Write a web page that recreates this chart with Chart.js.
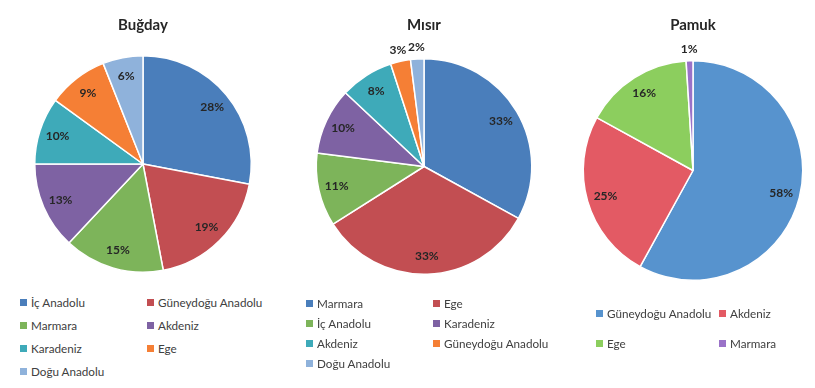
<!DOCTYPE html>
<html>
<head>
<meta charset="utf-8">
<script src="https://cdn.jsdelivr.net/npm/chart.js@4"></script>
<style>
  body { margin: 0; background: #fff; width: 815px; height: 388px; position: relative; overflow: hidden; font-family: Lato, "Open Sans", sans-serif; }
  .box { position: absolute; }
  .legend { position: absolute; display: grid; font-size: 11.7px; color: #404040; }
  .legend span.m { display: inline-block; width: 7px; height: 7px; margin-right: 4px; vertical-align: 1px; }
  .legend div { white-space: nowrap; height: 16px; line-height: 16px; }
</style>
</head>
<body>
<div class="box" style="left:0;top:0;width:286px;height:273px"><canvas id="bugdayChart"></canvas></div>
<div class="box" style="left:281px;top:0;width:286px;height:275px"><canvas id="misirChart"></canvas></div>
<div class="box" style="left:571px;top:0;width:244px;height:281px"><canvas id="pamukChart"></canvas></div>
<div class="legend" id="bugdayLegend" style="left:20px;top:294px;grid-template-columns:127px 127px;row-gap:7px"></div>
<div class="legend" id="misirLegend" style="left:306px;top:295px;grid-template-columns:127px 127px;row-gap:4px"></div>
<div class="legend" id="pamukLegend" style="left:596px;top:305px;grid-template-columns:123px 90px;row-gap:14px"></div>
<script>
// Buğday
const bugdayLabels = ['İç Anadolu', 'Güneydoğu Anadolu', 'Marmara', 'Akdeniz', 'Karadeniz', 'Ege', 'Doğu Anadolu'];
const bugdayValues = [28, 19, 15, 13, 10, 9, 6];
const bugdayColors = ['#4a7ebb', '#c24e52', '#7db45a', '#7e62a3', '#3eaab9', '#f57f35', '#8fb2db'];

// Mısır
const misirLabels = ['Marmara', 'Ege', 'İç Anadolu', 'Karadeniz', 'Akdeniz', 'Güneydoğu Anadolu', 'Doğu Anadolu'];
const misirValues = [33, 33, 11, 10, 8, 3, 2];
const misirColors = ['#4a7ebb', '#c24e52', '#7db45a', '#7e62a3', '#3eaab9', '#f57f35', '#8fb2db'];

// Pamuk
const pamukLabels = ['Güneydoğu Anadolu', 'Akdeniz', 'Ege', 'Marmara'];
const pamukValues = [58, 25, 16, 1];
const pamukColors = ['#5793ce', '#e35a64', '#8cce5e', '#9a72c8'];

// percent labels on the slices, small ones go outside
const sliceLabels = {
    id: 'sliceLabels',
    afterDatasetsDraw(chart) {
        const ctx = chart.ctx;
        const meta = chart.getDatasetMeta(0);
        const values = chart.data.datasets[0].data;
        ctx.save();
        ctx.font = 'bold 12px Lato, "Open Sans", sans-serif';
        ctx.fillStyle = '#262626';
        ctx.textAlign = 'center';
        ctx.textBaseline = 'middle';
        meta.data.forEach(function(arc, i) {
            const p = arc.getProps(['x', 'y', 'startAngle', 'endAngle', 'outerRadius'], true);
            const mid = (p.startAngle + p.endAngle) / 2;
            const dist = values[i] < 5 ? p.outerRadius + 12 : p.outerRadius * 0.83;
            ctx.fillText(values[i] + '%', p.x + Math.cos(mid) * dist, p.y + Math.sin(mid) * dist);
        });
        ctx.restore();
    }
};

function makePie(id, title, labels, values, colors, padBottom) {
    const ctx = document.getElementById(id).getContext('2d');
    return new Chart(ctx, {
        type: 'pie',
        data: {
            labels: labels,
            datasets: [{
                data: values,
                backgroundColor: colors,
                borderColor: '#ffffff',
                borderWidth: 1.5
            }]
        },
        options: {
            responsive: true,
            maintainAspectRatio: false,
            animation: false,
            layout: { padding: 0 },
            plugins: {
                legend: { display: false },
                tooltip: { enabled: false },
                title: {
                    display: true,
                    text: title,
                    color: '#262626',
                    font: { family: 'Lato, "Open Sans", sans-serif', size: 15, weight: 'bold' },
                    padding: { top: 16, bottom: padBottom }
                }
            }
        },
        plugins: [sliceLabels]
    });
}

function makeLegend(id, labels, colors) {
    const el = document.getElementById(id);
    labels.forEach(function(label, i) {
        const item = document.createElement('div');
        const m = document.createElement('span');
        m.className = 'm';
        m.style.background = colors[i];
        item.appendChild(m);
        item.appendChild(document.createTextNode(label));
        el.appendChild(item);
    });
}

makePie('bugdayChart', 'Buğday', bugdayLabels, bugdayValues, bugdayColors, 21);
makePie('misirChart', 'Mısır', misirLabels, misirValues, misirColors, 24);
makePie('pamukChart', 'Pamuk', pamukLabels, pamukValues, pamukColors, 26);

makeLegend('bugdayLegend', bugdayLabels, bugdayColors);
makeLegend('misirLegend', misirLabels, misirColors);
makeLegend('pamukLegend', pamukLabels, pamukColors);
</script>
</body>
</html>
